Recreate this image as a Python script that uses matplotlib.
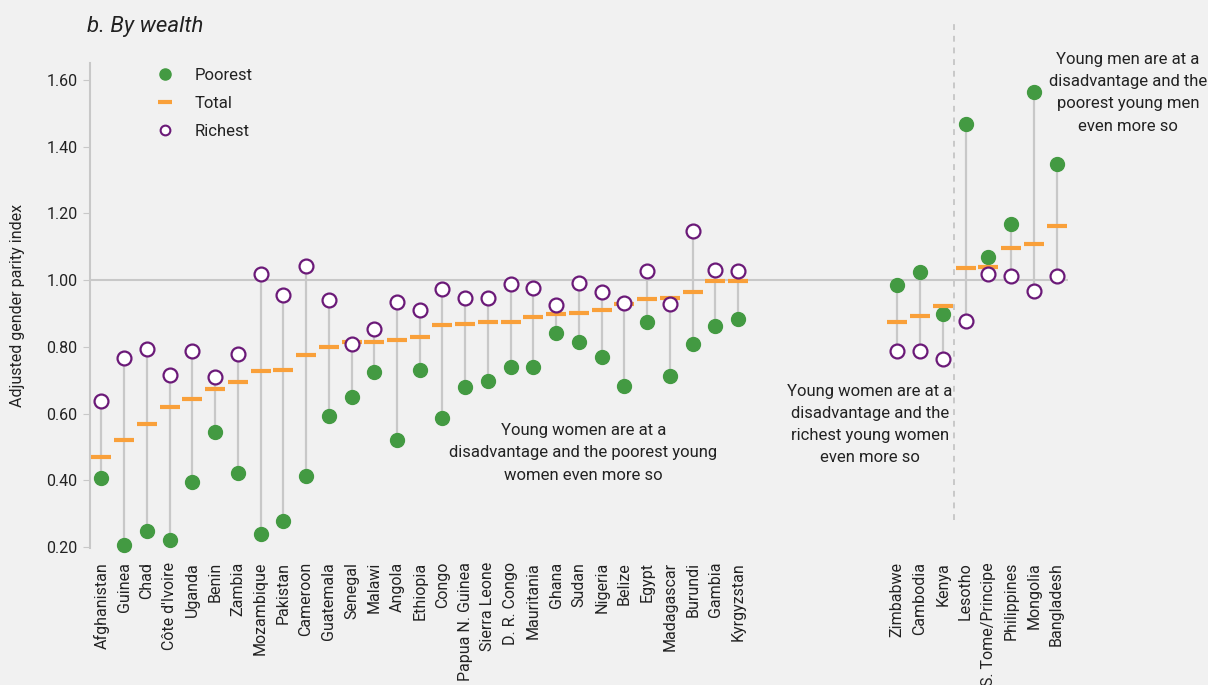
import matplotlib
matplotlib.use("Agg")
import matplotlib.pyplot as plt
from matplotlib.lines import Line2D
import numpy as np

plt.rcParams['font.family'] = ['Roboto', 'DejaVu Sans']

# data
countries_left = ['Afghanistan', 'Guinea', 'Chad', "Côte d'Ivoire", 'Uganda', 'Benin', 'Zambia',
                  'Mozambique', 'Pakistan', 'Cameroon', 'Guatemala', 'Senegal', 'Malawi', 'Angola',
                  'Ethiopia', 'Congo', 'Papua N. Guinea', 'Sierra Leone', 'D. R. Congo', 'Mauritania',
                  'Ghana', 'Sudan', 'Nigeria', 'Belize', 'Egypt', 'Madagascar', 'Burundi', 'Gambia',
                  'Kyrgyzstan']
poorest_left = [0.406, 0.206, 0.248, 0.221, 0.395, 0.546, 0.421, 0.238, 0.277, 0.414, 0.592, 0.650,
                0.726, 0.521, 0.732, 0.588, 0.680, 0.699, 0.740, 0.740, 0.842, 0.814, 0.769, 0.683,
                0.874, 0.714, 0.808, 0.862, 0.883]
total_left = [0.471, 0.522, 0.569, 0.621, 0.643, 0.674, 0.694, 0.728, 0.731, 0.776, 0.800, 0.814,
              0.815, 0.821, 0.830, 0.865, 0.868, 0.874, 0.875, 0.889, 0.899, 0.901, 0.911, 0.928,
              0.943, 0.946, 0.964, 0.997, 0.997]
richest_left = [0.639, 0.766, 0.794, 0.715, 0.788, 0.710, 0.779, 1.017, 0.957, 1.043, 0.942, 0.808,
                0.854, 0.934, 0.910, 0.972, 0.948, 0.947, 0.989, 0.976, 0.926, 0.992, 0.964, 0.931,
                1.027, 0.930, 1.147, 1.030, 1.026]

countries_right = ['Zimbabwe', 'Cambodia', 'Kenya', 'Lesotho', 'S. Tome/Principe', 'Philippines',
                   'Mongolia', 'Bangladesh']
poorest_right = [0.984, 1.025, 0.899, 1.469, 1.069, 1.168, 1.564, 1.348]
total_right = [0.875, 0.893, 0.922, 1.037, 1.040, 1.097, 1.107, 1.161]
richest_right = [0.789, 0.789, 0.764, 0.878, 1.019, 1.012, 0.967, 1.013]

green = '#439a42'
orange = '#f9a03a'
purple = '#6b1a78'
grey = '#c8c8c8'
bg = '#f1f1f1'

countries = countries_left + countries_right
poorest = np.array(poorest_left + poorest_right)
total = np.array(total_left + total_right)
richest = np.array(richest_left + richest_right)
x = np.concatenate([np.arange(len(countries_left)),
                    np.arange(len(countries_right)) + 35])

fig = plt.figure(figsize=(12.08, 6.85), dpi=100, facecolor=bg)
ax = fig.add_axes([0.0745, 0.2, 0.8095, 0.708], facecolor=bg)

ax.axhline(1.0, color=grey, lw=1.5, zorder=1)
ax.vlines(x, poorest, richest, color=grey, lw=1.6, zorder=2)
ax.plot(x, poorest, 'o', color=green, ms=10, mec=green, zorder=3, clip_on=False)
ax.plot(x, total, '_', color=orange, ms=14.5, mew=3, zorder=4, clip_on=False)
ax.plot(x, richest, 'o', mfc='white', mec=purple, ms=10, mew=1.6, zorder=5, clip_on=False)

# separator
ax.plot([37.5, 37.5], [0.281, 1.78], ls=(0, (3, 3)), color=grey, lw=1.4, clip_on=False, zorder=1)

ax.set_xlim(-0.5, 42.5)
ax.set_ylim(0.197, 1.651)
ax.set_yticks([0.2, 0.4, 0.6, 0.8, 1.0, 1.2, 1.4, 1.6])
ax.set_yticklabels(['0.20', '0.40', '0.60', '0.80', '1.00', '1.20', '1.40', '1.60'])
ax.set_xticks(x)
ax.set_xticklabels(countries, rotation=90, fontsize=11.5, color='#222222')
ax.tick_params(axis='x', length=0, pad=10)
ax.tick_params(axis='y', length=5, color=grey, labelsize=11.5, labelcolor='#222222', pad=4)
for s in ['top', 'right', 'bottom']:
    ax.spines[s].set_visible(False)
ax.spines['left'].set_color(grey)
ax.spines['left'].set_linewidth(1.5)

ax.set_ylabel('Adjusted gender parity index', fontsize=11.5, color='#222222', labelpad=15)

fig.text(0.072, 0.962, 'b. By wealth', fontsize=16, style='italic', color='#222222', va='center')

handles = [Line2D([], [], marker='o', ls='', color=green, ms=8),
           Line2D([], [], marker='_', ls='', color=orange, ms=10, mew=3),
           Line2D([], [], marker='o', ls='', mfc='white', mec=purple, ms=7, mew=1.5)]
ax.legend(handles, ['Poorest', 'Total', 'Richest'], loc='upper left',
          bbox_to_anchor=(0.0516, 1.02), frameon=False, fontsize=12,
          labelspacing=0.78, handlelength=1.2, handletextpad=1.15, labelcolor='#222222')

ax.text(21.2, 0.482, 'Young women are at a\ndisadvantage and the poorest young\nwomen even more so',
        ha='center', va='center', fontsize=12, color='#222222', linespacing=1.6)
ax.text(33.8, 0.567, 'Young women are at a\ndisadvantage and the\nrichest young women\neven more so',
        ha='center', va='center', fontsize=12, color='#222222', linespacing=1.6)
ax.text(45.14, 1.562, 'Young men are at a\ndisadvantage and the\npoorest young men\neven more so',
        ha='center', va='center', fontsize=12, color='#222222', linespacing=1.6, clip_on=False)

fig.savefig('out.png', dpi=100, facecolor=bg)
